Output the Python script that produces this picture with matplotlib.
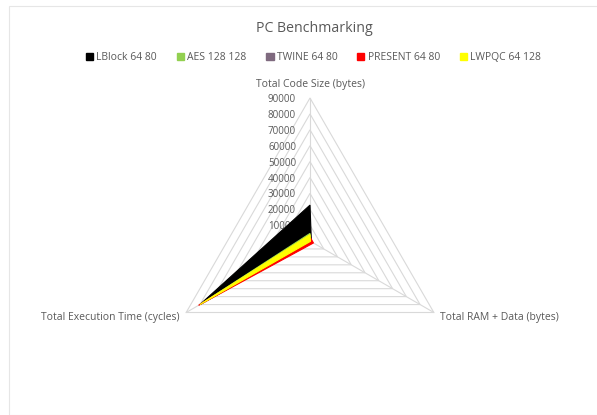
import numpy as np
import matplotlib
matplotlib.use("Agg")
import matplotlib.pyplot as plt
from matplotlib.patches import Patch, Rectangle

plt.rcParams['font.family'] = ['Open Sans', 'DejaVu Sans']

# data
axes_labels = ["Total Code Size (bytes)", "Total RAM + Data (bytes)", "Total Execution Time (cycles)"]
series = ["LBlock 64 80", "AES 128 128", "TWINE 64 80", "PRESENT 64 80", "LWPQC 64 128"]
colors = ["#000000", "#92d050", "#7f6a7f", "#ff0000", "#ffff00"]
code_size = [22600, 4800, 3000, 2600, 4000]
ram_data = [1000, 600, 300, 2500, 400]
exec_time = [80000, 79500, 80500, 81000, 80000]
ticks = [10000, 20000, 30000, 40000, 50000, 60000, 70000, 80000, 90000]
rmax = 90000

W, H = 597, 415
fig = plt.figure(figsize=(W / 100, H / 100), dpi=100)
ax = fig.add_axes([0, 0, 1, 1])

# pixel layout: centre of radar and radius of outer ring
cx, cy, rpx = 310, 241, 143
k = rmax / rpx
ax.set_xlim(-cx * k, (W - cx) * k)
ax.set_ylim(-(H - cy) * k, cy * k)
ax.set_aspect('equal')
ax.axis('off')

angles = np.deg2rad([90, -30, 210])


def to_xy(vals):
    v = np.asarray(vals, dtype=float)
    return v * np.cos(angles), v * np.sin(angles)


# grid rings
for t in ticks:
    x, y = to_xy([t, t, t])
    ax.fill(x, y, facecolor='none', edgecolor='#d9d9d9', lw=0.8, zorder=1)
for a in angles:
    ax.plot([0, rmax * np.cos(a)], [0, rmax * np.sin(a)], color='#d9d9d9', lw=0.8, zorder=1)

# tick labels along the top axis
for t in ticks:
    ax.text(-8800, t - 1000, str(t), ha='right', va='center', fontsize=7, color='#595959', zorder=2)

# category labels
ax.text(0, rmax + 5000, axes_labels[0], ha='center', va='bottom', fontsize=7.5, color='#595959')
x, y = to_xy([0, rmax, rmax])
ax.text(x[1] + 4000, y[1] - 3000, axes_labels[1], ha='left', va='center', fontsize=7.5, color='#595959')
ax.text(x[2] - 4000, y[2] - 3000, axes_labels[2], ha='right', va='center', fontsize=7.5, color='#595959')

# series
for name, c, cs, rd, et in zip(series, colors, code_size, ram_data, exec_time):
    x, y = to_xy([cs, rd, et])
    ax.fill(x, y, facecolor=c, edgecolor=c, lw=0.8, zorder=3)

fig.text(0.526, 1 - 28 / H, "PC Benchmarking", ha='center', va='center', fontsize=10.2, color='#595959')

handles = [Patch(facecolor=c, edgecolor=c) for c in colors]
fig.legend(handles, series, loc='center', bbox_to_anchor=(0.525, 1 - 58 / H), ncol=5, frameon=False,
           fontsize=7.5, labelcolor='#595959', handlelength=0.7, handleheight=0.7, handletextpad=0.3,
           columnspacing=1.9)

fig.add_artist(Rectangle((9 / W, 0), 1, 1 - 6 / H, transform=fig.transFigure, fill=False,
                         edgecolor='#e6e6e6', lw=0.8))

fig.savefig("out.png", dpi=100)
